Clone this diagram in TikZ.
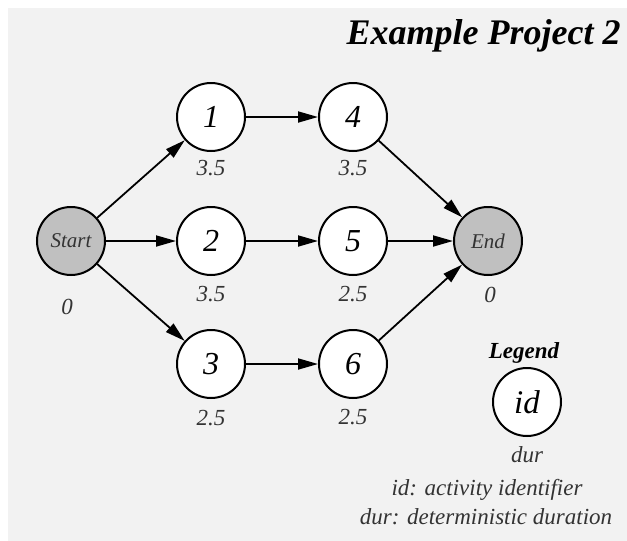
\documentclass[tikz,border=0pt]{standalone}
\usepackage{fontspec}
\setmainfont{Liberation Serif}
\usetikzlibrary{arrows.meta}
\definecolor{bg}{HTML}{F2F2F2}
\definecolor{term}{HTML}{C0C0C0}
\tikzset{
  act/.style={circle, draw=black, line width=2pt, fill=white, minimum size=68pt, inner sep=0pt, font=\fontsize{32}{35}\selectfont\itshape},
  termnode/.style={act, fill=term, font=\fontsize{21}{23}\selectfont\itshape, text=black!80},
  dlabel/.style={font=\fontsize{23}{26}\selectfont\itshape, text=black!80},
  arr/.style={line width=1.8pt, -{Triangle[length=20pt,width=11pt]}},
}
\begin{document}
\begin{tikzpicture}[x=1pt,y=-1pt]
\useasboundingbox (0,0) rectangle (627,541);
\fill[bg] (8,8) rectangle (627,541);
\node[anchor=east, font=\fontsize{36}{40}\selectfont\bfseries\itshape] (title) at (624,36) {Example Project 2};
\node[termnode] (s) at (71,241) {Start};
\node[act] (n1) at (211,117) {1};
\node[act] (n2) at (211,241) {2};
\node[act] (n3) at (211,364) {3};
\node[act] (n4) at (353,117) {4};
\node[act] (n5) at (353,241) {5};
\node[act] (n6) at (353,364) {6};
\node[termnode] (e) at (488,241) {End};
\node[dlabel] (ls) at (67,307) {0};
\node[dlabel] (l1) at (211,168) {3.5};
\node[dlabel] (l2) at (211,294) {3.5};
\node[dlabel] (l3) at (211,418) {2.5};
\node[dlabel] (l4) at (353,168) {3.5};
\node[dlabel] (l5) at (353,294) {2.5};
\node[dlabel] (l6) at (353,417) {2.5};
\node[dlabel] (le) at (490,295) {0};
\draw[arr] (s) -- (n1);
\draw[arr] (s) -- (n2);
\draw[arr] (s) -- (n3);
\draw[arr] (n1) -- (n4);
\draw[arr] (n2) -- (n5);
\draw[arr] (n3) -- (n6);
\draw[arr] (n4) -- (e);
\draw[arr] (n5) -- (e);
\draw[arr] (n6) -- (e);
\node[font=\fontsize{23}{26}\selectfont\bfseries\itshape] (lg) at (524,353) {Legend};
\node[act, font=\fontsize{33}{36}\selectfont\itshape] (lid) at (527,402) {id};
\node[dlabel] (ldur) at (527,455) {dur};
\node[dlabel] (lt1) at (487,490) {id: activity identifier};
\node[dlabel] (lt2) at (486,517) {dur: deterministic duration};
\end{tikzpicture}
\end{document}
